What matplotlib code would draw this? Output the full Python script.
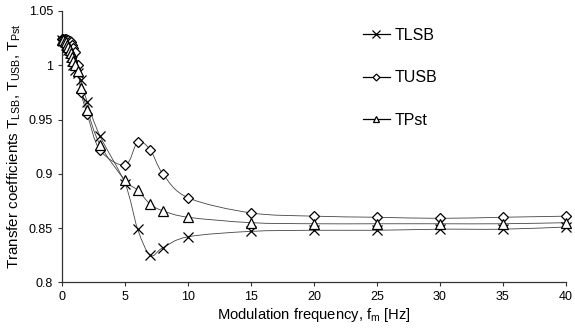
import numpy as np
import matplotlib
matplotlib.use('Agg')
import matplotlib.pyplot as plt
from matplotlib.path import Path
from matplotlib.patches import PathPatch
from matplotlib.lines import Line2D

plt.rcParams['font.family'] = ['Liberation Sans', 'DejaVu Sans']

# modulation frequency [Hz]
freq = [0, 0.1, 0.2, 0.3, 0.4, 0.5, 0.6, 0.7, 0.8, 0.9, 1.0, 1.25, 1.5,
        2, 3, 5, 6, 7, 8, 10, 15, 20, 25, 30, 35, 40]

t_lsb = [1.023, 1.022, 1.021, 1.019, 1.017, 1.014, 1.011, 1.008, 1.004, 1.000,
         0.996, 0.993, 0.986, 0.966, 0.935, 0.891, 0.849, 0.825, 0.832, 0.842,
         0.847, 0.848, 0.848, 0.849, 0.849, 0.851]
t_usb = [1.024, 1.024, 1.024, 1.024, 1.023, 1.023, 1.022, 1.021, 1.019, 1.016,
         1.012, 1.000, 0.975, 0.955, 0.922, 0.908, 0.929, 0.922, 0.900, 0.878,
         0.864, 0.861, 0.860, 0.859, 0.860, 0.861]
t_pst = [1.023, 1.023, 1.022, 1.021, 1.019, 1.017, 1.014, 1.011, 1.008, 1.004,
         1.000, 0.995, 0.979, 0.959, 0.927, 0.894, 0.885, 0.872, 0.866, 0.860,
         0.855, 0.854, 0.854, 0.854, 0.854, 0.855]

series = [('TLSB', t_lsb, 'x', 7.5, 'black'),
          ('TUSB', t_usb, 'D', 5, 'white'),
          ('TPst', t_pst, '^', 7, 'white')]


def smooth_path(x, y):
    # cubic bezier through the points, like a spreadsheet "smoothed line"
    p = np.column_stack([x, y]).astype(float)
    n = len(p)
    verts = [p[0]]
    codes = [Path.MOVETO]
    for i in range(n - 1):
        p0 = p[i - 1] if i > 0 else p[i]
        p3 = p[i + 2] if i + 2 < n else p[i + 1]
        c1 = p[i] + (p[i + 1] - p0) / 6.0
        c2 = p[i + 1] - (p3 - p[i]) / 6.0
        verts += [c1, c2, p[i + 1]]
        codes += [Path.CURVE4] * 3
    return Path(verts, codes)


fig = plt.figure(figsize=(5.75, 3.33), dpi=100)
ax = fig.add_axes([0.108, 0.152, 0.876, 0.815])

handles = []
for name, vals, mk, ms, fc in series:
    ax.add_patch(PathPatch(smooth_path(freq, vals), facecolor='none',
                           edgecolor='#444444', lw=0.6, zorder=2))
    ax.plot(freq, vals, ls='none', marker=mk, ms=ms, mfc=fc, mec='black',
            mew=0.9, zorder=3, clip_on=False)
    handles.append(Line2D([], [], color='black', lw=0.9, marker=mk,
                          ms=ms * 0.7, mfc=fc, mec='black', mew=0.9,
                          label=name))

ax.set_xlim(0, 40)
ax.set_ylim(0.8, 1.05)
ax.set_xticks(np.arange(0, 41, 5))
ax.set_yticks([0.8, 0.85, 0.9, 0.95, 1.0, 1.05])
ax.set_yticklabels(['0.8', '0.85', '0.9', '0.95', '1', '1.05'])
ax.tick_params(labelsize=9, length=3, width=0.8, color='#333333')

for s in ['top', 'right']:
    ax.spines[s].set_visible(False)
for s in ['left', 'bottom']:
    ax.spines[s].set_color('#333333')
    ax.spines[s].set_linewidth(0.9)

ax.set_xlabel('Modulation frequency, f$_\\mathregular{m}$ [Hz]', fontsize=10.6,
              labelpad=2)
ax.set_ylabel('Transfer coefficients T$_\\mathregular{LSB}$, '
              'T$_\\mathregular{USB}$, T$_\\mathregular{Pst}$',
              fontsize=10.9, labelpad=4)

fig.legend(handles=handles, loc='upper left', bbox_to_anchor=(0.631, 0.917),
           frameon=False, fontsize=11.5, labelspacing=1.72, handlelength=1.7,
           handletextpad=0.3, borderpad=0, borderaxespad=0)

fig.savefig('out.png', dpi=100)
